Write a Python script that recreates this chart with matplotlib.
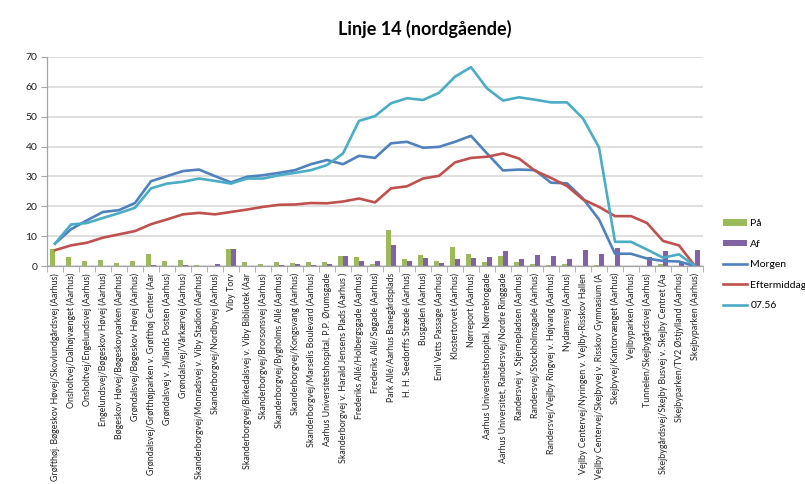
import matplotlib
matplotlib.use("Agg")
import matplotlib.pyplot as plt
import numpy as np
from matplotlib.lines import Line2D
from matplotlib.patches import Patch

plt.rcParams["font.family"] = ["Lato", "DejaVu Sans"]

stops = [
    "Grøfthøj. Bøgeskov Høvej/Skovlundgårdsvej (Aarhus)",
    "Onsholtvej/Dalhøjvænget (Aarhus)",
    "Onsholtvej/Engelundsvej (Aarhus)",
    "Engelundsvej/Bøgeskov Høvej (Aarhus)",
    "Bøgeskov Høvej/Bøgeskovparken (Aarhus)",
    "Grøndalsvej/Bøgeskov Høvej (Aarhus)",
    "Grøndalsvej/Grøfthøjparken v. Grøfthøj Center (Aar",
    "Grøndalsvej v. Jyllands Posten (Aarhus)",
    "Grøndalsvej/Vårkærvej (Aarhus)",
    "Skanderborgvej/Monradsvej v. Viby Stadion (Aarhus)",
    "Skanderborgvej/Nordbyvej (Aarhus)",
    "Viby Torv",
    "Skanderborgvej/Birkedalsvej v. Viby Bibliotek (Aar",
    "Skanderborgvej/Brorsonsvej (Aarhus)",
    "Skanderborgvej/Bygholms Allé (Aarhus)",
    "Skanderborgvej/Kongsvang (Aarhus)",
    "Skanderborgvej/Marselis Boulevard (Aarhus)",
    "Aarhus Universitetshospital, P.P. Ørumsgade",
    "Skanderborgvej v. Harald Jensens Plads (Aarhus )",
    "Frederiks Allé/Holbergsgade (Aarhus)",
    "Frederiks Allé/Søgade (Aarhus)",
    "Park Allé/Aarhus Banegårdsplads",
    "H. H. Seedorffs Stræde (Aarhus)",
    "Busgaden (Aarhus)",
    "Emil Vetts Passage (Aarhus)",
    "Klostertorvet (Aarhus)",
    "Nørreport (Aarhus)",
    "Aarhus Universitetshospital, Nørrebrogade",
    "Aarhus Universitet, Randersvej/Nordre Ringgade",
    "Randersvej v. Stjernepladsen (Aarhus)",
    "Randersvej/Stockholmsgade (Aarhus)",
    "Randersvej/Vejlby Ringvej v. Højvang (Aarhus)",
    "Nydamsvej (Aarhus)",
    "Vejlby Centervej/Nyringen v. Vejlby-Risskov Hallen",
    "Vejlby Centervej/Skejbyvej v. Risskov Gymnasium (A",
    "Skejbyvej/Kantorvænget (Aarhus)",
    "Vejlbyparken (Aarhus)",
    "Tunnelen/Skejbygårdsvej (Aarhus)",
    "Skejbygårdsvej/Skejby Busvej v. Skejby Centret (Aa",
    "Skejbyparken/TV2 Østjylland (Aarhus)",
    "Skejbyparken (Aarhus)",
]

paa = [5.8, 2.9, 1.7, 2.1, 1.0, 1.7, 4.1, 1.7, 2.1, 0.5, 0, 5.6, 1.3, 0.6,
       1.5, 1.0, 1.3, 1.3, 3.3, 3.0, 0.6, 11.9, 2.4, 3.8, 1.8, 6.2, 4.1, 1.4,
       3.5, 1.3, 0.8, 0.2, 0.8, 0, 0.2, 0, 0, 0, 0.8, 0.1, 0]
af = [0, 0, 0, 0, 0, 0, 0.2, 0, 0.2, 0, 0.8, 5.7, 0, 0, 0.5, 0.6, 0.2, 0.6,
      3.3, 1.6, 1.7, 6.9, 1.6, 2.8, 1.0, 2.4, 2.6, 2.9, 5.0, 2.5, 3.6, 3.4,
      2.5, 5.3, 4.1, 5.9, 0, 3.0, 5.0, 1.3, 5.3]
morgen = [7.5, 12.3, 15.3, 18.1, 18.7, 21.1, 28.4, 30.1, 31.8, 32.3, 30.1,
          28.0, 29.9, 30.4, 31.2, 32.1, 34.1, 35.5, 34.1, 36.9, 36.2, 41.1,
          41.6, 39.6, 39.9, 41.6, 43.6, 37.7, 32.0, 32.3, 32.1, 27.9, 27.7,
          22.6, 15.6, 4.1, 4.1, 2.5, 1.7, 1.5, 0]
eftermiddag = [5.3, 6.9, 7.8, 9.5, 10.6, 11.7, 14.0, 15.6, 17.3, 17.8, 17.3,
               18.1, 18.9, 19.8, 20.5, 20.6, 21.1, 21.0, 21.6, 22.6, 21.3,
               26.0, 26.7, 29.3, 30.2, 34.7, 36.2, 36.6, 37.7, 36.0, 31.9,
               29.5, 26.8, 22.3, 19.8, 16.7, 16.7, 14.4, 8.4, 6.9, 0]
kl_0756 = [7.5, 13.9, 14.4, 16.1, 17.7, 19.5, 26.0, 27.6, 28.2, 29.3, 28.5,
           27.6, 29.3, 29.3, 30.4, 31.2, 32.1, 33.8, 37.7, 48.6, 50.2, 54.5,
           56.2, 55.6, 58.0, 63.4, 66.6, 59.5, 55.4, 56.5, 55.7, 54.8, 54.8,
           49.4, 39.7, 8.1, 8.1, 5.5, 2.8, 3.9, 0]

green = "#9BBB59"
purple = "#8064A2"
blue = "#4F81BD"
red = "#C0504D"
cyan = "#4BACC6"
grid_color = "#D9D9D9"

fig = plt.figure(figsize=(8.05, 4.84), dpi=100)
ax = fig.add_axes([47 / 805, 1 - 266 / 484, 656 / 805, 209 / 484])

x = np.arange(len(stops))
bar_w = 1 / 3.5
ax.bar(x - bar_w / 2, paa, width=bar_w, color=green, zorder=2)
ax.bar(x + bar_w / 2, af, width=bar_w, color=purple, zorder=2)

ax.plot(x, morgen, color=blue, lw=1.9, zorder=3)
ax.plot(x, eftermiddag, color=red, lw=1.9, zorder=3)
ax.plot(x, kl_0756, color=cyan, lw=1.9, zorder=3)

ax.set_xlim(-0.5, len(stops) - 0.5)
ax.set_ylim(0, 70)
ax.set_yticks(np.arange(0, 71, 10))
ax.yaxis.grid(True, color=grid_color, lw=1.2, zorder=0)
ax.set_axisbelow(True)

ax.set_xticks(x)
ax.set_xticklabels(stops, rotation=90, fontsize=6.4, color="#222222")
ax.set_xticks(np.arange(-0.5, len(stops), 1), minor=True)
ax.tick_params(axis="x", which="major", length=0, pad=5)
ax.tick_params(axis="x", which="minor", length=4, color="#A6A6A6")
ax.tick_params(axis="y", length=4, color="#A6A6A6", labelsize=7.5,
               labelcolor="#222222", pad=3)

for side in ("top", "right"):
    ax.spines[side].set_visible(False)
for side in ("left", "bottom"):
    ax.spines[side].set_color("#A6A6A6")
    ax.spines[side].set_linewidth(0.9)

fig.text(425 / 805, 1 - 29 / 484, "Linje 14 (nordgående)", ha="center",
         va="center", fontsize=13, fontweight="bold")

handles = [
    Patch(facecolor=green),
    Patch(facecolor=purple),
    Line2D([], [], color=blue, lw=1.9),
    Line2D([], [], color=red, lw=1.9),
    Line2D([], [], color=cyan, lw=1.9),
]
labels = ["På", "Af", "Morgen", "Eftermiddag", "07.56"]
fig.legend(handles, labels, loc="upper left",
           bbox_to_anchor=(718 / 805, 1 - 214 / 484), frameon=False,
           fontsize=7.5, handlelength=2.3, handleheight=0.6,
           handletextpad=0.3, labelspacing=1.1, borderpad=0)

fig.savefig("out.png", dpi=100)
